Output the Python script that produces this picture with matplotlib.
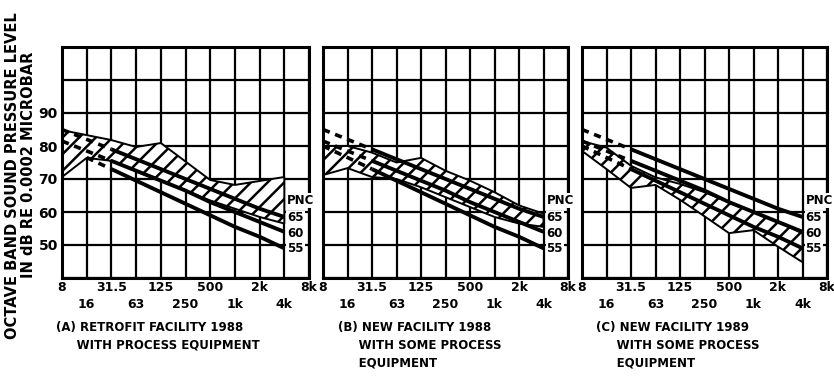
import matplotlib
matplotlib.use("Agg")
import matplotlib.pyplot as plt

plt.rcParams['font.family'] = ['DejaVu Sans']
plt.rcParams['font.weight'] = 'bold'
plt.rcParams['hatch.linewidth'] = 1.8

# octave band centre frequencies (x positions are the band index)
FREQ_LABELS = ['8', '16', '31.5', '63', '125', '250', '500', '1k', '2k', '4k', '8k']

# PNC curves, dB per octave band 8 Hz .. 4 kHz
PNC_65 = [85, 82, 79, 76, 73, 70, 67, 64, 61, 58.5]
PNC_60 = [81.5, 78.5, 75.5, 72.5, 69.5, 66.5, 63, 60, 57, 54]
PNC_55 = [80, 76.5, 73, 69.5, 66, 62.5, 59, 55.5, 52.5, 49]

# measured envelopes (upper / lower), 8 Hz .. 4 kHz
A_TOP = [84.8, 83.3, 81.8, 79.7, 80.9, 75.3, 69.7, 68.2, 69.4, 70.6]
A_BOTTOM = [70.6, 76.4, 75.5, 72.5, 69.5, 66.5, 63.5, 61, 58.5, 56.5]
B_TOP = [80, 80, 78, 75, 76.4, 72.5, 69.5, 66, 62, 59.5]
B_BOTTOM = [71.2, 73.3, 70.6, 70, 67.5, 64.5, 61.5, 58.5, 56.5, 55.5]
C_TOP = [81.5, 79.5, 74, 70.5, 68.5, 66, 63, 60, 57, 53.5]
C_BOTTOM = [78.5, 73, 67.3, 68.2, 63.7, 58.7, 53.6, 54.5, 49.5, 44.8]

CAPTIONS = [
    ["(A) RETROFIT FACILITY 1988", "     WITH PROCESS EQUIPMENT"],
    ["(B) NEW FACILITY 1988", "     WITH SOME PROCESS", "     EQUIPMENT"],
    ["(C) NEW FACILITY 1989", "     WITH SOME PROCESS", "     EQUIPMENT"],
]

PNC_LABELS = ['PNC', '65', '60', '55']
PNC_LABEL_Y = [63.5, 58.2, 53.6, 49.0]

W, H = 834, 379
fig = plt.figure(figsize=(W / 100, H / 100), dpi=100)

panel_left = [62, 323, 582]
panel_width = [247, 245, 245]
envelopes = [(A_TOP, A_BOTTOM), (B_TOP, B_BOTTOM), (C_TOP, C_BOTTOM)]
pnc55_start = [1, 0, 0]

x = list(range(10))

for p in range(3):
    ax = fig.add_axes([panel_left[p] / W, (H - 278) / H, panel_width[p] / W, 231 / H])
    ax.set_xlim(0, 10)
    ax.set_ylim(40, 110)

    # grid and ticks
    ax.set_xticks(range(11))
    ax.set_xticklabels(FREQ_LABELS, fontsize=9, fontweight='bold')
    ax.set_yticks(range(40, 111, 10))
    if p == 0:
        ax.set_yticklabels(['', '50', '60', '70', '80', '90', '', ''],
                           fontsize=10, fontweight='bold')
    else:
        ax.set_yticklabels([])
    ax.tick_params(length=0)
    ax.tick_params(axis='y', pad=3)
    # staggered frequency labels: two rows
    for k, t in enumerate(ax.xaxis.get_major_ticks()):
        t.set_pad(2.5 if k % 2 == 0 else 14.5)
    ax.grid(True, color='black', lw=1.6)
    ax.set_axisbelow(True)
    for s in ax.spines.values():
        s.set_linewidth(2.2)

    # measured envelope (hatched)
    top, bot = envelopes[p]
    ax.fill_between(x, bot, top, facecolor='white', edgecolor='black',
                    hatch='//', lw=1.4, zorder=2)

    # PNC curves: dashed below 31.5 Hz, solid above
    for curve, start in [(PNC_65, 0), (PNC_60, 0), (PNC_55, pnc55_start[p])]:
        ax.plot(x[start:3], curve[start:3], color='black', lw=2.6,
                linestyle=(0, (2.0, 1.6)), zorder=3)
        ax.plot(x[2:], curve[2:], color='black', lw=2.8, zorder=3,
                solid_capstyle='butt')

    for lab, yy in zip(PNC_LABELS, PNC_LABEL_Y):
        ax.text(9.12, yy, lab, fontsize=8.5, fontweight='bold', ha='left',
                va='center', zorder=4,
                bbox=dict(facecolor='white', edgecolor='none', pad=0.6))

    # caption
    cx = [56, 338, 596][p]
    for j, line in enumerate(CAPTIONS[p]):
        fig.text(cx / W, 1 - (328 + 17.5 * j) / H, line, fontsize=8.5,
                 fontweight='bold', ha='left', va='center')

fig.text(13 / W, 1 - 176 / H, 'OCTAVE BAND SOUND PRESSURE LEVEL', rotation=90,
         fontsize=10.5, fontweight='bold', ha='center', va='center')
fig.text(29 / W, 1 - 165 / H, 'IN dB RE 0.0002 MICROBAR', rotation=90,
         fontsize=10.5, fontweight='bold', ha='center', va='center')

fig.savefig('out.png', dpi=100, facecolor='white')
